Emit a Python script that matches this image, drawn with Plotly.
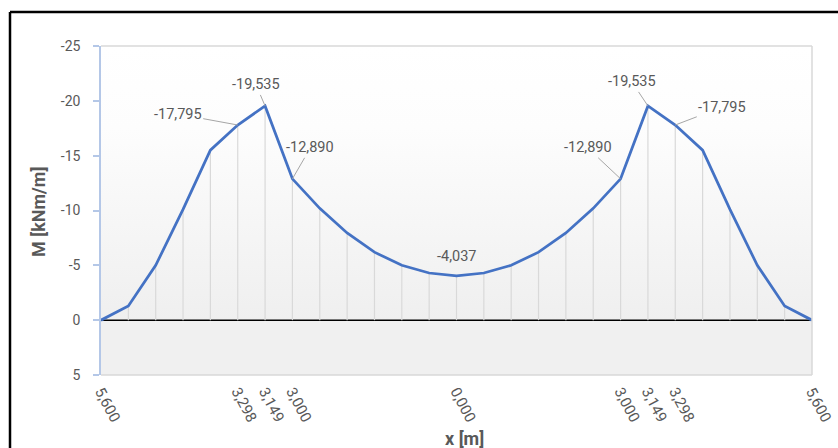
import plotly.graph_objects as go

# Bending moment along the beam (27 stations, symmetric)
x_labels = ["5,600", "", "", "", "", "3,298", "3,149", "3,000", "", "", "", "", "",
            "0,000", "", "", "", "", "", "3,000", "3,149", "3,298", "", "", "", "", "5,600"]
moment = [0.0, -1.3, -5.0, -10.1, -15.5, -17.795, -19.535, -12.890, -10.2, -7.95, -6.2, -5.0, -4.3,
          -4.037, -4.3, -5.0, -6.2, -7.95, -10.2, -12.890, -19.535, -17.795, -15.5, -10.1, -5.0, -1.3, 0.0]
y_ticks = [-25, -20, -15, -10, -5, 0, 5]
labelled = [5, 6, 7, 13, 19, 20, 21]

W, H = 838, 448
L, R, T, B = 101, 812, 46, 375          # plot area in pixels
Y_TOP, Y_BOT = -25, 5
n = len(moment)
idx = list(range(n))

def px(xp):
    return (xp - L) / (R - L)

def py(yp):
    return (B - yp) / (B - T)

GREY = "#595959"
FONT = "Roboto"

fig = go.Figure()

# gradient background above the zero line
fig.add_trace(go.Scatter(
    x=[0, n - 1, n - 1, 0, 0], y=[Y_TOP, Y_TOP, 0, 0, Y_TOP],
    mode="lines", line=dict(width=0), fill="toself",
    fillgradient=dict(type="vertical", start=Y_TOP, stop=0,
                      colorscale=[[0, "#ffffff"], [0.3, "#fdfdfd"], [1, "#efefef"]]),
    hoverinfo="skip", showlegend=False))

# zero axis
fig.add_trace(go.Scatter(x=[0, n - 1], y=[0, 0], mode="lines",
                         line=dict(color="#000000", width=1.5),
                         hoverinfo="skip", showlegend=False))

# drop lines from each station to zero
dx, dy = [], []
for i, v in zip(idx, moment):
    dx += [i, i, None]
    dy += [0, v, None]
fig.add_trace(go.Scatter(x=dx, y=dy, mode="lines",
                         line=dict(color="#d9d9d9", width=1.2),
                         hoverinfo="skip", showlegend=False))

# moment line
fig.add_trace(go.Scatter(x=idx, y=moment, mode="lines",
                         line=dict(color="#4472C4", width=2.75),
                         showlegend=False))

def fmt(v):
    return f"{v:.3f}".replace(".", ",")

offsets = {5: (-60, -11), 6: (-9, -21), 7: (18, -31), 19: (-33, -31), 20: (-16, -24), 21: (47, -18)}
annotations = []
for i in labelled:
    if i in offsets:
        ax, ay = offsets[i]
        annotations.append(dict(x=i, y=moment[i], xref="x", yref="y", text=fmt(moment[i]),
                                showarrow=True, arrowhead=0, arrowwidth=1, arrowcolor="#a6a6a6",
                                ax=ax, ay=ay, standoff=0, startstandoff=0,
                                font=dict(family=FONT, size=14.5, color=GREY)))
    else:
        annotations.append(dict(x=i, y=moment[i], xref="x", yref="y", text=fmt(moment[i]),
                                showarrow=False, yanchor="bottom", yshift=9,
                                font=dict(family=FONT, size=14.5, color=GREY)))

# axis titles
annotations.append(dict(x=px(38), y=py(212), xref="paper", yref="paper", text="<b>M [kNm/m]</b>",
                        textangle=-90, showarrow=False, xanchor="center", yanchor="middle",
                        font=dict(family=FONT, size=18, color=GREY)))
annotations.append(dict(x=px(464), y=py(438), xref="paper", yref="paper", text="<b>x [m]</b>",
                        showarrow=False, xanchor="center", yanchor="middle",
                        font=dict(family=FONT, size=18, color=GREY)))

shapes = [
    # area below zero
    dict(type="rect", xref="x", yref="y", x0=0, x1=n - 1, y0=0, y1=Y_BOT,
         fillcolor="#f0f0f0", line=dict(width=0), layer="below"),
    # plot area frame (top, right, bottom)
    dict(type="line", xref="paper", yref="paper", x0=0, x1=1, y0=1, y1=1,
         line=dict(color="#d9d9d9", width=1.5)),
    dict(type="line", xref="paper", yref="paper", x0=1, x1=1, y0=0, y1=1,
         line=dict(color="#d9d9d9", width=1.5)),
    dict(type="line", xref="paper", yref="paper", x0=0, x1=1, y0=0, y1=0,
         line=dict(color="#d9d9d9", width=1.5)),
    # outer chart border
    dict(type="line", xref="paper", yref="paper", x0=px(10), x1=px(W + 5), y0=py(12), y1=py(12),
         line=dict(color="#000000", width=2.5)),
    dict(type="line", xref="paper", yref="paper", x0=px(10), x1=px(10), y0=py(12), y1=py(H + 5),
         line=dict(color="#000000", width=2.5)),
]

fig.update_layout(
    width=W, height=H,
    margin=dict(l=L, r=W - R, t=T, b=H - B, autoexpand=False),
    paper_bgcolor="#ffffff", plot_bgcolor="rgba(0,0,0,0)",
    font=dict(family=FONT, size=14, color=GREY),
    annotations=annotations, shapes=shapes,
    xaxis=dict(range=[0, n - 1], tickvals=[i for i, t in enumerate(x_labels) if t],
               ticktext=[t for t in x_labels if t], tickangle=62, showgrid=False, zeroline=False,
               showline=False, ticks="", ticklabelstandoff=4, automargin=False,
               tickfont=dict(family=FONT, size=15, color=GREY)),
    yaxis=dict(range=[Y_BOT, Y_TOP], tickvals=y_ticks, ticktext=[str(v) for v in y_ticks],
               showgrid=False, zeroline=False, showline=True, linecolor="#b4c7e7", linewidth=1.5,
               ticks="outside", ticklen=6, tickcolor="#b4c7e7", tickwidth=1.5, automargin=False,
               ticklabelstandoff=10, tickfont=dict(family=FONT, size=14, color=GREY)),
)

fig.write_html("out.html")
